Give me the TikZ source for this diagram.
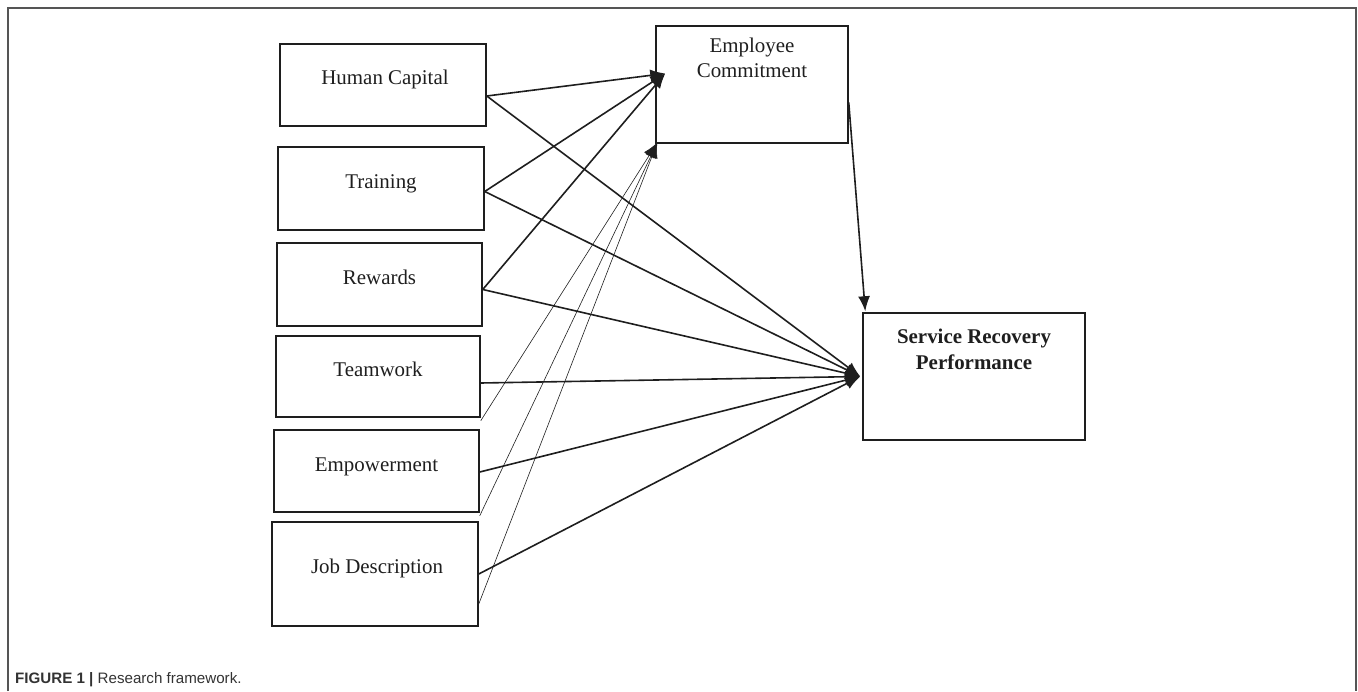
\documentclass[tikz,border=0pt]{standalone}
\usepackage{fontspec}
\setmainfont{Liberation Serif}
\newfontfamily\capfont{Liberation Sans}
\usetikzlibrary{arrows.meta,calc}
\definecolor{ink}{HTML}{1E1E1E}
\definecolor{framegray}{HTML}{555555}
\definecolor{captext}{HTML}{333333}
\begin{document}
\begin{tikzpicture}[x=1bp,y=-1bp,
  box/.style={draw=ink, line width=1.5bp, rectangle, inner sep=0pt},
  lbl/.style={font=\fontsize{21}{25}\selectfont, text=ink, align=center, inner sep=0pt},
  blbl/.style={font=\fontsize{21}{26}\selectfont\bfseries, text=ink, align=center, inner sep=0pt},
  thickarrow/.style={draw=ink, line width=1.6bp, -{Latex[length=15bp,width=12bp]}},
  thinarrow/.style={draw=ink, line width=0.6bp, -{Latex[length=15bp,width=12bp]}}]
\useasboundingbox (0,0) rectangle (1358,691);
% outer frame
\draw[framegray, line width=1.5bp] (8,691) -- (8,8) -- (1356,8) -- (1356,691);

% boxes
\node[box, minimum width=206bp, minimum height=82bp] (hc) at (383,85) {};
\node[box, minimum width=206bp, minimum height=83bp] (tr) at (381,188.5) {};
\node[box, minimum width=205bp, minimum height=83bp] (rw) at (379.5,284.5) {};
\node[box, minimum width=204bp, minimum height=81bp] (tw) at (378,376.5) {};
\node[box, minimum width=205bp, minimum height=82bp] (em) at (376.5,471) {};
\node[box, minimum width=206bp, minimum height=104bp] (jd) at (375,574) {};
\node[box, minimum width=192bp, minimum height=117bp] (ec) at (752,84.5) {};
\node[box, minimum width=222bp, minimum height=127bp] (srp) at (974,376.5) {};

% labels
\node[lbl, anchor=base] (hct) at (385,85) {Human Capital};
\node[lbl, anchor=base] (trt) at (tr.center) {Training};
\node[lbl, anchor=base] (rwt) at (rw.center) {Rewards};
\node[lbl, anchor=base] (twt) at (tw.center) {Teamwork};
\node[lbl, anchor=base] (emt) at (em.center) {Empowerment};
\node[lbl, anchor=base] (jdt) at (377,573) {Job Description};
\node[lbl, anchor=north] (ect) at (752,38) {Employee\\Commitment};
\node[blbl, anchor=north] (srpt) at (974,329) {Service Recovery\\Performance};

% connector end points
\coordinate (hcO) at ($(hc.east)+(0,11)$);
\coordinate (trO) at ($(tr.east)+(0,3)$);
\coordinate (rwO) at ($(rw.east)+(0,5)$);
\coordinate (twO) at ($(tw.east)+(0,6.5)$);
\coordinate (emO) at ($(em.east)+(0,1)$);
\coordinate (jdO) at ($(jd.east)+(0,0)$);
\coordinate (twC) at ($(tw.south east)+(0,3)$);
\coordinate (emC) at ($(em.south east)+(0,3)$);
\coordinate (jdC) at ($(jd.east)+(0,30)$);
\coordinate (ecIn) at ($(ec.west)+(10,-11)$);
\coordinate (ecLow) at ($(ec.south west)+(2,-1)$);
\coordinate (ecOut) at ($(ec.east)+(0,18)$);
\coordinate (srpIn) at ($(srp.west)+(-2,0)$);
\coordinate (srpTop) at ($(srp.north west)+(3,-1)$);

% thick arrows to Employee Commitment
\draw[thickarrow] (hcO) -- (ecIn);
\draw[thickarrow] (trO) -- (ecIn);
\draw[thickarrow] (rwO) -- (ecIn);
% thick arrows to Service Recovery Performance
\draw[thickarrow] (hcO) -- (srpIn);
\draw[thickarrow] (trO) -- (srpIn);
\draw[thickarrow] (rwO) -- (srpIn);
\draw[thickarrow] (twO) -- (srpIn);
\draw[thickarrow] (emO) -- (srpIn);
\draw[thickarrow] (jdO) -- (srpIn);
\draw[thickarrow] (ecOut) -- (srpTop);
% thin arrows
\draw[thinarrow] (twC) -- (ecLow);
\draw[thinarrow] (emC) -- (ecLow);
\draw[thinarrow] (jdC) -- (ecLow);

% caption
\node[anchor=base west, inner sep=0pt, text=captext, font=\capfont\fontsize{15.2}{18}\selectfont] (cap) at (15,683) {\textbf{FIGURE 1} \textbf{|} Research framework.};
\end{tikzpicture}
\end{document}
